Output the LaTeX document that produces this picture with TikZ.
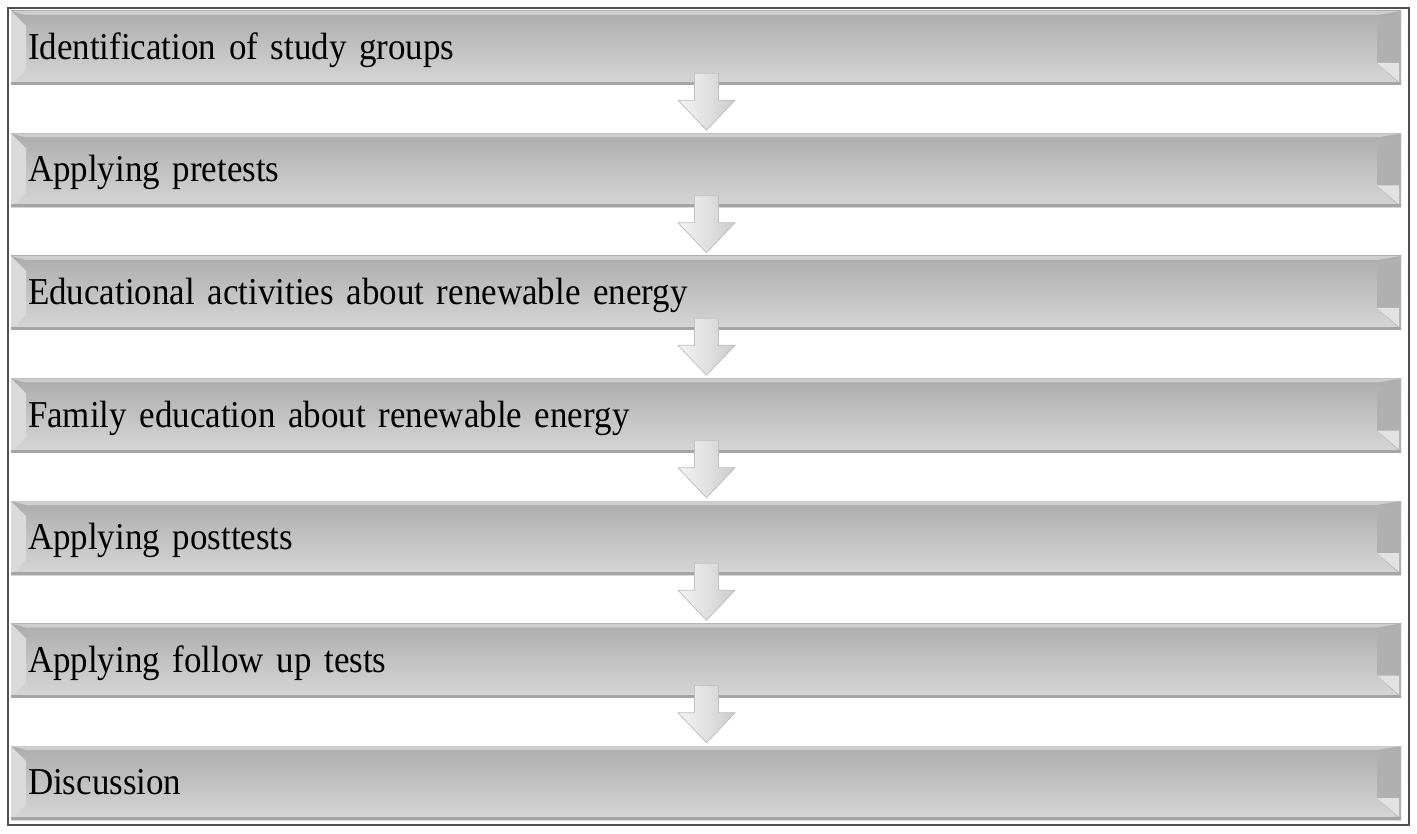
\documentclass[tikz,border=0pt]{standalone}
\usepackage{fontspec}
\setmainfont{Liberation Serif}[FakeStretch=0.92, WordSpace=0.85]
\usetikzlibrary{calc}
\definecolor{bartop}{RGB}{172,172,172}
\definecolor{barmid}{RGB}{194,194,194}
\definecolor{barbot}{RGB}{214,214,214}
\definecolor{bevL}{RGB}{218,218,218}
\definecolor{bevR}{RGB}{176,176,176}
\definecolor{bevRlo}{RGB}{226,226,226}
\definecolor{bevT}{RGB}{205,205,205}
\definecolor{frame}{RGB}{80,80,80}
\definecolor{edge}{RGB}{165,165,165}
\tikzset{
  x=1pt, y=-1pt,
  stepbar/.style={rectangle, minimum width=1390pt, minimum height=74pt,
    inner xsep=17pt, inner ysep=0pt, text width=1356pt, align=left,
    text height=30pt, text depth=7pt,
    font=\fontsize{38}{42}\selectfont,
    top color=bartop, bottom color=barbot, middle color=barmid,
    path picture={
      \coordinate (pnw) at (path picture bounding box.north west);
      \coordinate (pne) at (path picture bounding box.north east);
      \coordinate (psw) at (path picture bounding box.south west);
      \coordinate (pse) at (path picture bounding box.south east);
      \fill[bevT] (pnw) -- (pne) -- ($(pne)+(-24,4)$) -- ($(pnw)+(15,4)$) -- cycle;
      \fill[bevL] (pnw) -- ($(pnw)+(15,15)$) -- ($(psw)+(15,-15)$) -- (psw) -- cycle;
      \fill[bevR] (pne) -- ($(pne)+(-24,12)$) -- ($(pse)+(-24,-22)$) -- (pse) -- cycle;
      \fill[bevRlo] ($(pse)+(-24,-22)$) -- ($(pse)+(-2,-3)$) -- ($(pse)+(-2,-22)$) -- cycle;
      \fill[edge] ($(psw)+(0,-3)$) rectangle (pse);
    }},
  downarrow/.style={left color=gray!8, right color=gray!40, draw=gray!50, line width=0.8pt}
}
\begin{document}
\begin{tikzpicture}
\useasboundingbox (0,0) rectangle (1417,834);
\draw[frame, line width=2pt] (8,8) rectangle (1409,825);
\node[stepbar] (b1) at (706,48) {Identification of study groups};
\node[stepbar] (b2) at (706,170.5) {Applying pretests};
\node[stepbar] (b3) at (706,293) {Educational activities about renewable energy};
\node[stepbar] (b4) at (706,415.5) {Family education about renewable energy};
\node[stepbar] (b5) at (706,538) {Applying posttests};
\node[stepbar] (b6) at (706,660.5) {Applying follow up tests};
\node[stepbar] (b7) at (706,783) {Discussion};
\foreach \a/\b in {b1/b2,b2/b3,b3/b4,b4/b5,b5/b6,b6/b7}{
  \draw[downarrow] ([xshift=0.5pt]\a.south) ++(-12,-12) -- ++(24,0) -- ++(0,27) -- ++(16.5,0)
    -- ++(-28.5,30) -- ++(-28.5,-30) -- ++(16.5,0) -- cycle;
}
\end{tikzpicture}
\end{document}
